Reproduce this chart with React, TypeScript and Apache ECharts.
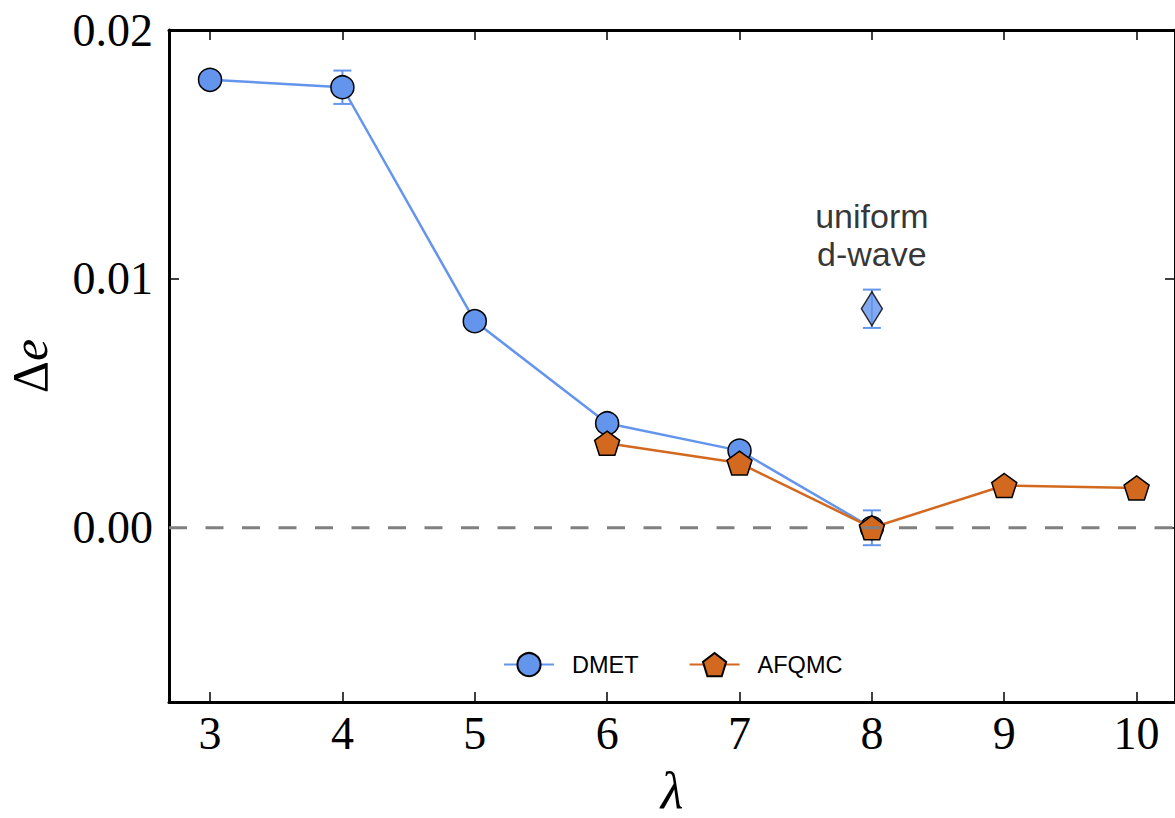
import React, { useEffect, useRef } from "react";
import * as echarts from "echarts";

// ---- data ----
const lambdaTicks = [3, 4, 5, 6, 7, 8, 9, 10];
const yTicks = [0, 0.01, 0.02];
const xRange = [2.69, 10.29];
const yRange = [-0.007, 0.02];

const dmetX = [3, 4, 5, 6, 7, 8];
const dmetY = [0.018, 0.0177, 0.0083, 0.0042, 0.0031, 0.0];
const dmetErr = [0, 0.00067, 0, 0, 0, 0.0007];

const afqmcX = [6, 7, 8, 9, 10];
const afqmcY = [0.0034, 0.0026, 0.0, 0.0017, 0.0016];
const afqmcErr = [0, 0, 0, 0, 0];

const uniformX = [8];
const uniformY = [0.0088];
const uniformErr = [0.00077];

const zeroLineX = [xRange[0], xRange[1]];
const zeroLineY = [0, 0];

const BLUE = "#6495ED";
const ORANGE = "#D2691E";
const PENTAGON = "path://M0,-1L0.951,-0.309L0.588,0.809L-0.588,0.809L-0.951,-0.309Z";
const SERIF = "'Liberation Serif', 'DejaVu Serif', serif";
const SANS = "'Liberation Sans', Arial, sans-serif";

const zip = (xs: number[], ys: number[]) => xs.map((x, i) => [x, ys[i]]);

const errorSeries = (xs: number[], ys: number[], errs: number[], color: string, z: number) => ({
  type: "custom",
  z,
  silent: true,
  data: xs.map((x, i) => [x, ys[i] - errs[i], ys[i] + errs[i], errs[i]]),
  encode: { x: 0, y: [1, 2] },
  renderItem: (params: any, api: any) => {
    if (!api.value(3)) return { type: "group", children: [] };
    const x = api.value(0);
    const lo = api.coord([x, api.value(1)]);
    const hi = api.coord([x, api.value(2)]);
    const hw = 9;
    const st = { stroke: color, lineWidth: 2 };
    return {
      type: "group",
      children: [
        { type: "line", shape: { x1: lo[0], y1: lo[1], x2: hi[0], y2: hi[1] }, style: st },
        { type: "line", shape: { x1: lo[0] - hw, y1: lo[1], x2: lo[0] + hw, y2: lo[1] }, style: st },
        { type: "line", shape: { x1: hi[0] - hw, y1: hi[1], x2: hi[0] + hw, y2: hi[1] }, style: st },
      ],
    };
  },
});

export default function App() {
  const ref = useRef<HTMLDivElement>(null);
  useEffect(() => {
    if (!ref.current) return;
    const chart = echarts.init(ref.current, undefined, { renderer: "svg" });
    const tickLine = { color: "#000", width: 1.5 };
    const spine = { show: true, onZero: false, lineStyle: { color: "#000", width: 3 } };
    chart.setOption({
      animation: false,
      backgroundColor: "#fff",
      grid: { left: 169, top: 30, right: 0, bottom: 116, containLabel: false, outerBoundsMode: "none" },
      legend: {
        data: ["DMET", "AFQMC"],
        left: 503,
        top: 652,
        padding: 0,
        itemWidth: 50,
        itemHeight: 29,
        itemGap: 50,
        textStyle: { fontFamily: SANS, fontSize: 23.5, color: "#000", padding: [0, 0, 0, 13] },
      },
      xAxis: [
        {
          type: "value",
          position: "bottom",
          min: xRange[0],
          max: xRange[1],
          axisLine: spine,
          axisTick: { show: true, inside: true, length: 10, lineStyle: tickLine, customValues: lambdaTicks },
          axisLabel: { customValues: lambdaTicks, fontFamily: SERIF, fontSize: 46, color: "#000", margin: 8 },
          splitLine: { show: false },
          name: "λ",
          nameLocation: "middle",
          nameGap: 63,
          nameTextStyle: { fontFamily: SERIF, fontStyle: "italic", fontSize: 52, lineHeight: 50, color: "#000" },
        },
        {
          type: "value",
          position: "top",
          min: xRange[0],
          max: xRange[1],
          axisLine: spine,
          axisTick: { show: true, inside: true, length: 10, lineStyle: tickLine, customValues: lambdaTicks },
          axisLabel: { show: false },
          splitLine: { show: false },
        },
      ],
      yAxis: [
        {
          type: "value",
          position: "left",
          min: yRange[0],
          max: yRange[1],
          axisLine: spine,
          axisTick: { show: true, inside: true, length: 10, lineStyle: tickLine, customValues: yTicks },
          axisLabel: {
            customValues: yTicks,
            formatter: (v: number) => v.toFixed(2),
            fontFamily: SERIF,
            fontSize: 46,
            color: "#000",
            margin: 16,
          },
          splitLine: { show: false },
          name: "{d|Δ}{e|e}",
          nameLocation: "middle",
          nameRotate: 90,
          nameGap: 114,
          nameTextStyle: {
            rich: {
              d: { fontFamily: SERIF, fontSize: 50, color: "#000" },
              e: { fontFamily: SERIF, fontStyle: "italic", fontSize: 50, color: "#000" },
            },
          },
        },
        {
          type: "value",
          position: "right",
          min: yRange[0],
          max: yRange[1],
          axisLine: spine,
          axisTick: { show: true, inside: true, length: 10, lineStyle: tickLine, customValues: yTicks },
          axisLabel: { show: false },
          splitLine: { show: false },
        },
      ],
      series: [
        errorSeries(dmetX, dmetY, dmetErr, BLUE, 2),
        errorSeries(afqmcX, afqmcY, afqmcErr, ORANGE, 2),
        errorSeries(uniformX, uniformY, uniformErr, BLUE, 2),
        {
          name: "DMET",
          type: "line",
          z: 3,
          data: zip(dmetX, dmetY),
          symbol: "circle",
          symbolSize: 23,
          lineStyle: { color: BLUE, width: 2.5 },
          itemStyle: { color: BLUE, borderColor: "#000", borderWidth: 1.5 },
        },
        {
          name: "AFQMC",
          type: "line",
          z: 4,
          data: zip(afqmcX, afqmcY),
          symbol: PENTAGON,
          symbolSize: [25, 24],
          lineStyle: { color: ORANGE, width: 2.5 },
          itemStyle: { color: ORANGE, borderColor: "#000", borderWidth: 1.5 },
        },
        {
          name: "uniform d-wave",
          type: "scatter",
          z: 4,
          data: zip(uniformX, uniformY),
          symbol: "diamond",
          symbolSize: [21, 34],
          itemStyle: { color: BLUE, borderColor: "#000", borderWidth: 1.5 },
          label: {
            show: true,
            position: "top",
            distance: 18,
            formatter: "uniform\nd-wave",
            fontFamily: SANS,
            fontSize: 34,
            lineHeight: 38,
            color: "#000",
          },
        },
        {
          name: "zero",
          type: "line",
          z: 6,
          silent: true,
          data: zip(zeroLineX, zeroLineY),
          symbol: "none",
          lineStyle: { color: "#808080", width: 3, type: [18, 18.5] },
        },
      ],
    });
    return () => chart.dispose();
  }, []);
  return (
    <div
      ref={ref}
      style={{ position: "absolute", left: 0, top: 0, width: 1175, height: 818, background: "#fff" }}
    />
  );
}
